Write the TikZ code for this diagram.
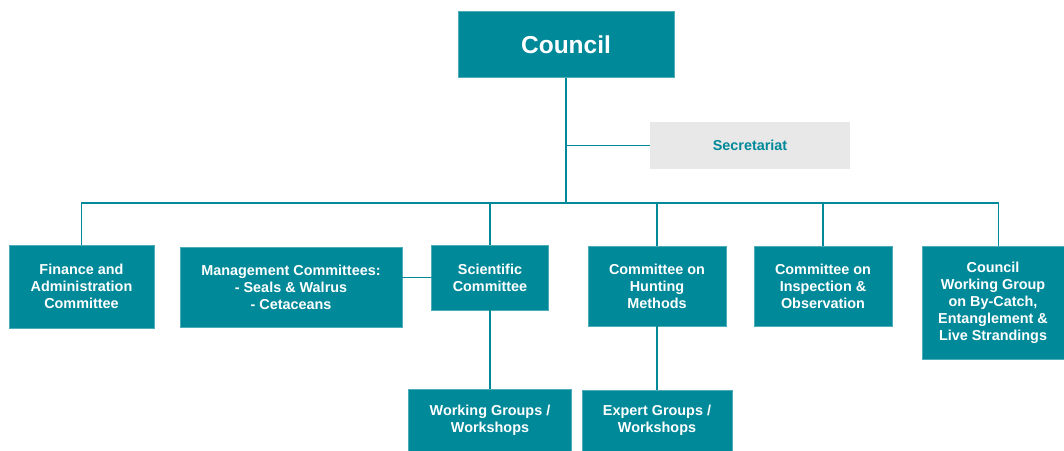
\documentclass[tikz,border=0pt]{standalone}
\usepackage{fontspec}
\setmainfont{Liberation Sans}
\begin{document}
\begin{tikzpicture}[x=1pt,y=-1pt,
  every node/.style={inner sep=0pt,outer sep=0pt},
  orgbox/.style={fill=teal1,draw=teal1!70!white,line width=0.8pt,
    text=white,align=center,font=\fontsize{14.4}{17}\selectfont\bfseries},
  link/.style={draw=teal1,line width=1.9pt}]
\definecolor{teal1}{RGB}{0,137,153}
\definecolor{panel}{RGB}{232,232,232}
\useasboundingbox (0,0) rectangle (1064,450);

% top level
\node[orgbox,minimum width=216pt,minimum height=66pt,
  font=\fontsize{24.5}{28}\selectfont\bfseries] (council) at (566,44.5) {Council};
\node[fill=panel,minimum width=200pt,minimum height=47pt,text=teal1,
  font=\fontsize{14.4}{17}\selectfont\bfseries] (sec) at (750,145.5) {Secretariat};

% committees
\node[orgbox,minimum width=145pt,minimum height=83pt] (fin) at (81.5,286.5)
  {Finance and\\Administration\\Committee};
\node[orgbox,minimum width=222pt,minimum height=80pt] (mgmt) at (291,287)
  {Management Committees:\\- Seals \& Walrus\\- Cetaceans};
\node[orgbox,minimum width=117pt,minimum height=65pt] (sci) at (490,277.5)
  {Scientific\\Committee};
\node[orgbox,minimum width=138pt,minimum height=80pt] (hunt) at (657,286)
  {Committee on\\Hunting\\Methods};
\node[orgbox,minimum width=138pt,minimum height=80pt] (insp) at (823,286)
  {Committee on\\Inspection \&\\Observation};
\node[orgbox,minimum width=142pt,minimum height=113pt] (cwg) at (993,302.5)
  {Council\\Working Group\\on By-Catch,\\Entanglement \&\\Live Strandings};

% sub-groups
\node[orgbox,minimum width=163pt,minimum height=62pt] (wg) at (490,420)
  {Working Groups /\\Workshops};
\node[orgbox,minimum width=150pt,minimum height=61pt] (eg) at (657,420.5)
  {Expert Groups /\\Workshops};

% connectors
\coordinate (bus) at (566,203);
\draw[link] (council.south) -- (bus);
\draw[link] (sec.west) -- (sec.west -| council.south);
\draw[link] (fin.north) |- (bus) -| (cwg.north -| 998.5,0);
\draw[link] (mgmt.north -| 289,0) -- (mgmt.north -| 289,0 |- bus);
\draw[link] (sci.north) -- (sci.north |- bus);
\draw[link] (hunt.north) -- (hunt.north |- bus);
\draw[link] (insp.north) -- (insp.north |- bus);
\draw[link] (sci.west) -- (sci.west -| mgmt.east);
\draw[link] (sci.south) -- (wg.north);
\draw[link] (hunt.south) -- (eg.north);
\end{tikzpicture}
\end{document}
